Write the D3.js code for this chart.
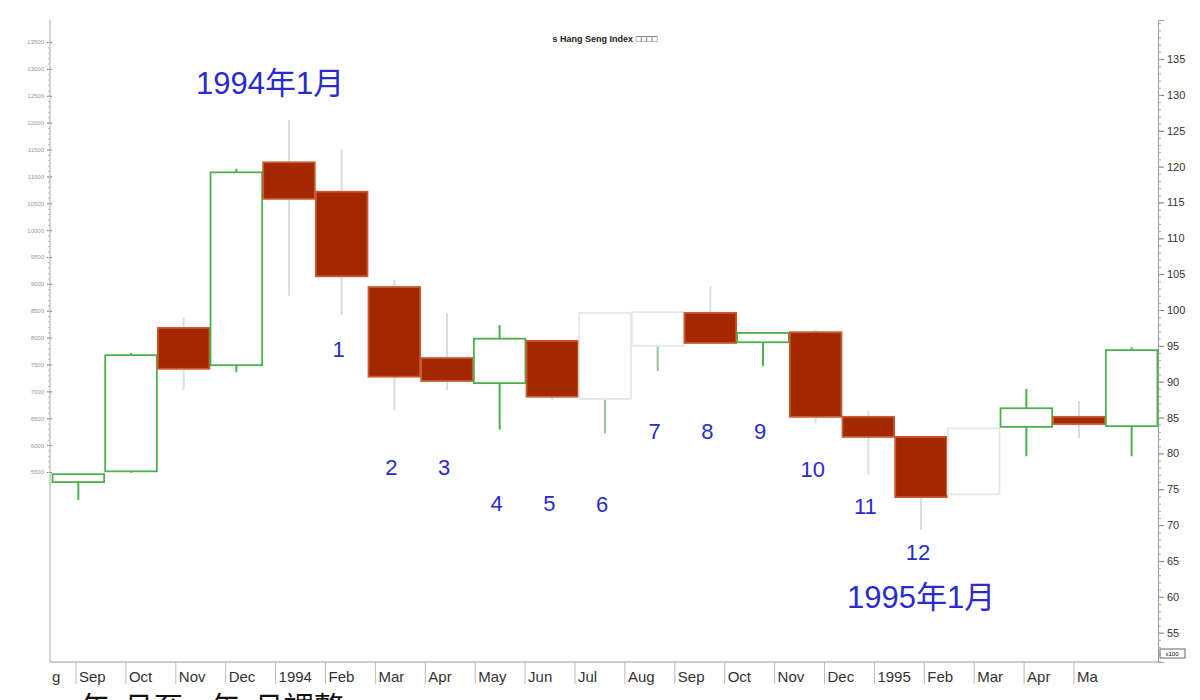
<!DOCTYPE html>
<html>
<head>
<meta charset="utf-8">
<script src="https://cdn.jsdelivr.net/npm/d3@7"></script>
<style>
  body { margin: 0; background: #fff; }
  svg { font-family: Arial, "Liberation Sans", sans-serif; }
</style>
</head>
<body>
<svg id="chart" width="1200" height="700"></svg>
<script>
// Monthly candles, values in right-axis units (x100)
var months = ["Sep","Oct","Nov","Dec","Jan","Feb","Mar","Apr","May","Jun","Jul",
              "Aug","Sep","Oct","Nov","Dec","Jan","Feb","Mar","Apr","May"];
var openV  = [76.0, 77.5, 97.5, 92.3, 120.6, 116.5, 103.2, 93.3, 89.8, 95.7, 87.6,
              95.0, 99.6, 95.5, 96.9, 85.1, 82.3, 74.3, 83.7, 85.1, 83.8];
var closeV = [77.1, 93.7, 91.8, 119.2, 115.5, 104.7, 90.7, 90.1, 96.0, 87.9, 99.6,
              99.7, 95.4, 96.8, 85.1, 82.3, 73.9, 83.5, 86.3, 84.1, 94.4];
var highV  = [77.1, 94.0, 98.9, 119.7, 126.5, 122.3, 104.2, 99.6, 97.9, 95.7, 99.6,
              99.7, 103.3, 96.8, 97.2, 85.9, 82.3, 83.5, 89.0, 87.3, 94.8];
var lowV   = [73.5, 77.3, 88.8, 91.3, 102.0, 99.3, 86.0, 88.8, 83.3, 87.5, 82.8,
              91.5, 95.4, 92.2, 84.2, 77.1, 69.3, 74.3, 79.6, 82.1, 79.6];
// faint (washed-out) candles in the picture
var faint  = [false,false,false,false,false,false,false,false,false,false,true,
              true,false,false,false,false,false,true,false,false,false];

var axisLabels = ["g","Sep","Oct","Nov","Dec","1994","Feb","Mar","Apr","May","Jun","Jul",
                  "Aug","Sep","Oct","Nov","Dec","1995","Feb","Mar","Apr","Ma"];
var rightTicks = [135,130,125,120,115,110,105,100,95,90,85,80,75,70,65,60,55];
var leftTicks = [13500,13000,12500,12000,11500,11000,10500,10000,9500,9000,8500,8000,7500,7000,6500,6000,5500];

// annotation labels: text, candle index, value level
var noteText  = ["1","2","3","4","5","6","7","8","9","10","11","12"];
var noteIdx   = [5, 6, 7, 8, 9, 10, 11, 12, 13, 14, 15, 16];
var noteValue = [93.5, 77.0, 77.0, 72.0, 72.0, 71.8, 82.0, 82.0, 82.0, 76.7, 71.5, 65.2];

var svg = d3.select("#chart");
var pL = 52, pR = 1158, pT = 20, pB = 662;

var x = d3.scaleBand().domain(d3.range(months.length)).range([pL, pR]);
var y = d3.scaleLinear().domain([100 - (pB - 310) / 7.17, 100 + (310 - pT) / 7.17]).range([pB, pT]);
var yLeft = d3.scaleLinear().domain([5500, 13500]).range([472, 42]);
var xLab = d3.scaleLinear().domain([1, 21]).range([76, 1074]);

// right axis
var rg = svg.append("g").attr("transform", "translate(" + pR + ",0)")
  .call(d3.axisRight(y).tickValues(rightTicks).tickFormat(d3.format("d")).tickSize(6));
rg.select(".domain").attr("stroke", "#999");
rg.selectAll("text").attr("font-size", 11).attr("fill", "#333");
rg.selectAll(".tick line").attr("stroke", "#777");
svg.append("g").attr("transform", "translate(" + pR + ",0)")
  .call(d3.axisRight(y).ticks(80).tickSize(3).tickFormat(""))
  .call(function (g) { g.select(".domain").remove(); g.selectAll("line").attr("stroke", "#aaa"); });

// left axis
var lg = svg.append("g").attr("transform", "translate(" + pL + ",0)")
  .call(d3.axisLeft(yLeft).tickValues(leftTicks).tickFormat(d3.format("d")).tickSize(5));
lg.select(".domain").remove();
lg.selectAll("text").attr("font-size", 6).attr("fill", "#999");
lg.selectAll(".tick line").attr("stroke", "#777");
svg.append("line").attr("x1", pL - 2).attr("x2", pL - 2).attr("y1", pT).attr("y2", pB).attr("stroke", "#aaa");
svg.append("g").attr("transform", "translate(" + (pL - 2) + ",0)")
  .call(d3.axisLeft(yLeft).ticks(90).tickSize(2).tickFormat(""))
  .call(function (g) { g.select(".domain").remove(); g.selectAll("line").attr("stroke", "#bbb"); });

// bottom axis
svg.append("line").attr("x1", pL - 2).attr("x2", pR).attr("y1", pB).attr("y2", pB).attr("stroke", "#999");
axisLabels.forEach(function (t, i) {
  var px = i === 0 ? 52 : xLab(i);
  if (i > 0) svg.append("line").attr("x1", px).attr("x2", px).attr("y1", pB).attr("y2", pB + 22).attr("stroke", "#bbb");
  svg.append("text").attr("x", i === 0 ? 52 : px + 3).attr("y", pB + 20)
    .attr("font-size", 15).attr("fill", "#333").text(t);
});
svg.append("rect").attr("x", 1160).attr("y", 649).attr("width", 25).attr("height", 9)
  .attr("fill", "none").attr("stroke", "#666");
svg.append("text").attr("x", 1172).attr("y", 656).attr("font-size", 6).attr("text-anchor", "middle").text("x100");

// title
svg.append("text").attr("x", 605).attr("y", 42).attr("text-anchor", "middle")
  .attr("font-size", 9).attr("font-weight", "bold").attr("fill", "#222").text("s Hang Seng Index □□□□");

// candles
var bw = x.bandwidth() * 0.98;
var c = svg.append("g").selectAll("g").data(months).join("g");
c.append("line")
  .attr("x1", function (d, i) { return x(i) + x.bandwidth() / 2; })
  .attr("x2", function (d, i) { return x(i) + x.bandwidth() / 2; })
  .attr("y1", function (d, i) { return y(highV[i]); })
  .attr("y2", function (d, i) { return y(lowV[i]); })
  .attr("stroke", function (d, i) { return closeV[i] >= openV[i] ? (faint[i] ? "#8fc78f" : "#4caf50") : "#ddd"; })
  .attr("stroke-width", 2);
c.append("rect")
  .attr("x", function (d, i) { return x(i) + (x.bandwidth() - bw) / 2; })
  .attr("width", bw)
  .attr("y", function (d, i) { return y(Math.max(openV[i], closeV[i])); })
  .attr("height", function (d, i) { return Math.max(2, Math.abs(y(openV[i]) - y(closeV[i]))); })
  .attr("fill", function (d, i) { return closeV[i] >= openV[i] ? "#fff" : "#a32800"; })
  .attr("stroke", function (d, i) {
    if (closeV[i] < openV[i]) return "#c85a30";
    return faint[i] ? "#e2e8e2" : "#4caf50";
  })
  .attr("stroke-width", 1.8);

// annotations
var blue = "#2b2bcc";
svg.append("g").selectAll("text").data(noteText).join("text")
  .attr("x", function (d, i) { return x(noteIdx[i]) + x.bandwidth() / 2 - 3; })
  .attr("y", function (d, i) { return y(noteValue[i]); })
  .attr("text-anchor", "middle").attr("font-size", 22).attr("fill", blue)
  .text(function (d) { return d; });
svg.append("text").attr("x", 196).attr("y", 94).attr("font-size", 31).attr("fill", blue)
  .style("font-family", "Arial, 'Noto Sans CJK TC'").text("1994年1月");
svg.append("text").attr("x", 847).attr("y", 608).attr("font-size", 31).attr("fill", blue)
  .style("font-family", "Arial, 'Noto Sans CJK TC'").text("1995年1月");

// cut-off caption at the bottom edge
svg.append("text").attr("x", 80).attr("y", 718).attr("font-size", 30).attr("fill", "#111")
  .style("font-family", "'Noto Sans CJK TC'").style("white-space", "pre")
  .text("年  月至    年  月調整");
</script>
</body>
</html>
